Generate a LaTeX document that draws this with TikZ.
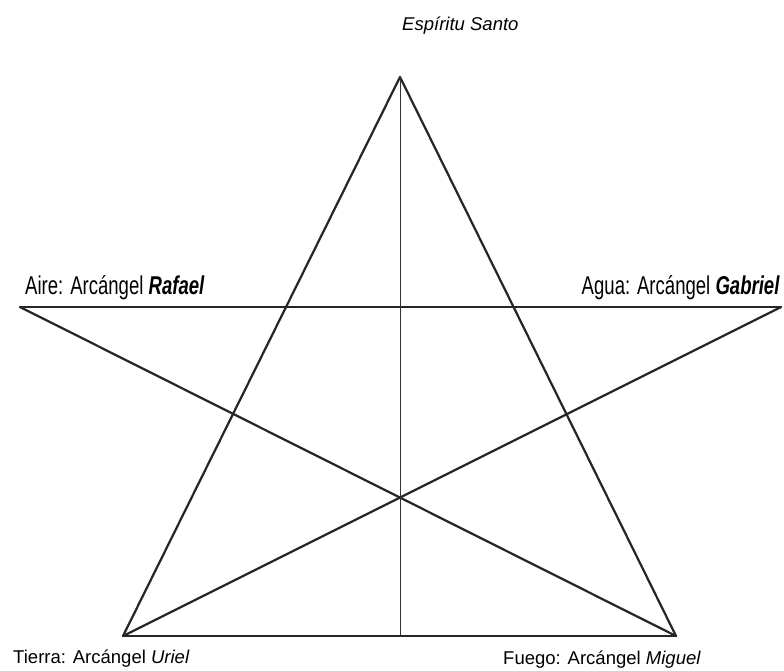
\documentclass[tikz,border=0pt]{standalone}
\usepackage{fontspec}
\setmainfont{Liberation Sans}
\newfontfamily\narrowfont[FakeStretch=0.72]{Liberation Sans}

\begin{document}
\begin{tikzpicture}[x=0.03cm, y=-0.03cm, line cap=round,
        star/.style={line width=1.9pt, black!85},
        axis/.style={line width=0.7pt, black!80},
        label/.style={inner sep=0pt, font=\fontsize{15.8}{18}\selectfont},
        element/.style={inner sep=0pt, font=\narrowfont\fontsize{22}{24}\selectfont}]
        \useasboundingbox (0,0) rectangle (784,670);
        % points of the star
        \coordinate (top) at (400,77);
        \coordinate (left) at (20,307);
        \coordinate (right) at (781,307);
        \coordinate (botleft) at (123,636);
        \coordinate (botright) at (676,636);
        \coordinate (botmid) at (400,636);
        \draw[star] (top) -- (botleft);
        \draw[star] (top) -- (botright);
        \draw[star] (left) -- (right);
        \draw[star] (left) -- (botright);
        \draw[star] (right) -- (botleft);
        \draw[star] (botleft) -- (botright);
        \draw[axis] (top) -- (botmid);
        % labels
        \node[label, anchor=base west] (spirit) at (402,30) {\textit{Espíritu Santo}};
        \node[element, anchor=base west] (air) at (25,294) {Aire: Arcángel \textbf{\textit{Rafael}}};
        \node[element, anchor=base east] (water) at (780,294) {Agua: Arcángel \textbf{\textit{Gabriel}}};
        \node[label, anchor=base west] (earth) at (13,663) {Tierra: Arcángel \textit{Uriel}};
        \node[label, anchor=base west] (fire) at (503,664) {Fuego: Arcángel \textit{Miguel}};
    \end{tikzpicture}
\end{document}
